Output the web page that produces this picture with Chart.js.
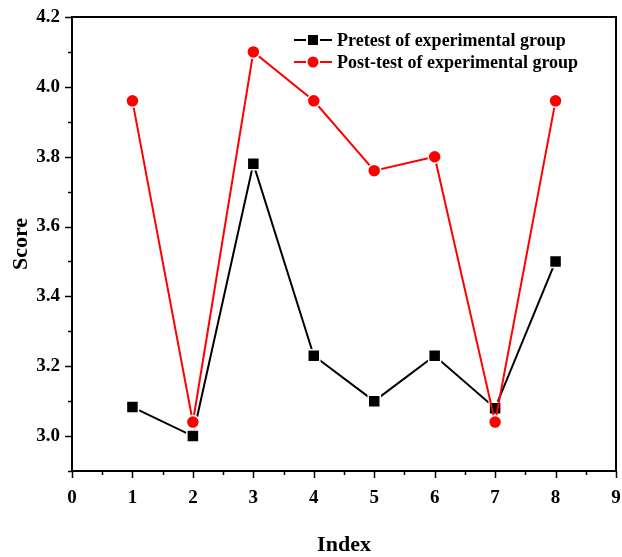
<!DOCTYPE html>
<html>
<head>
<meta charset="utf-8">
<script src="https://cdn.jsdelivr.net/npm/chart.js@4"></script>
<style>
  html, body { margin: 0; padding: 0; background: #fff; }
  #wrap { width: 622px; height: 557px; }
</style>
</head>
<body>
<div id="wrap"><canvas id="scoreChart" width="622" height="557"></canvas></div>
<script>
const indexes = [1, 2, 3, 4, 5, 6, 7, 8];
const pretest = [3.083, 3.0, 3.78, 3.23, 3.1, 3.23, 3.08, 3.5];
const posttest = [3.96, 3.04, 4.1, 3.96, 3.76, 3.8, 3.04, 3.96];
const seriesNames = ["Pretest of experimental group", "Post-test of experimental group"];
const xTicks = [0, 1, 2, 3, 4, 5, 6, 7, 8, 9];
const yTicks = [3.0, 3.2, 3.4, 3.6, 3.8, 4.0, 4.2];

const serif = "'Liberation Serif', 'Times New Roman', serif";

// axis frame, major/minor ticks, legend box
const framePlugin = {
    id: 'frame',
    afterDraw(chart) {
        const ctx = chart.ctx;
        const a = chart.chartArea;
        const xs = chart.scales.x;
        const ys = chart.scales.y;
        ctx.save();
        ctx.strokeStyle = '#000';
        ctx.lineWidth = 2;
        ctx.strokeRect(a.left, a.top, a.right - a.left, a.bottom - a.top);
        ctx.lineWidth = 1.5;
        ctx.beginPath();
        for (let v = 0; v <= 9.001; v += 0.5) {
            const px = Math.round(xs.getPixelForValue(v)) + 0.5;
            const len = Number.isInteger(v) ? 7 : 4;
            ctx.moveTo(px, a.bottom);
            ctx.lineTo(px, a.bottom + len);
        }
        for (let i = 29; i <= 42; i++) {
            const py = Math.round(ys.getPixelForValue(i / 10)) + 0.5;
            const len = i % 2 === 0 ? 7 : 4;
            ctx.moveTo(a.left, py);
            ctx.lineTo(a.left - len, py);
        }
        ctx.stroke();

        // legend
        const items = [
            { label: seriesNames[0], color: '#000', style: 'rect' },
            { label: seriesNames[1], color: '#ff0000', style: 'circle' }
        ];
        ctx.font = "bold 18px " + serif;
        ctx.textBaseline = 'middle';
        items.forEach((it, i) => {
            const y = 40 + i * 22;
            const x0 = 294;
            ctx.strokeStyle = it.color;
            ctx.lineWidth = 2;
            ctx.beginPath();
            ctx.moveTo(x0, y); ctx.lineTo(x0 + 12, y);
            ctx.moveTo(x0 + 26, y); ctx.lineTo(x0 + 38, y);
            ctx.stroke();
            ctx.fillStyle = it.color;
            if (it.style === 'rect') {
                ctx.fillRect(x0 + 14, y - 5, 10, 10);
            } else {
                ctx.beginPath();
                ctx.arc(x0 + 19, y, 5.5, 0, Math.PI * 2);
                ctx.fill();
            }
            ctx.fillStyle = '#000';
            ctx.fillText(it.label, x0 + 43, y + 1);
        });
        ctx.restore();
    }
};

const scoreData = {
    datasets: [
        {
            label: seriesNames[0],
            data: indexes.map((x, i) => ({ x: x, y: pretest[i] })),
            borderColor: '#000',
            backgroundColor: '#000',
            borderWidth: 2,
            pointStyle: 'rect',
            pointRadius: 8.5,
            pointBorderColor: '#fff',
            pointBorderWidth: 1.5,
            tension: 0,
            order: 2,
        },
        {
            label: seriesNames[1],
            data: indexes.map((x, i) => ({ x: x, y: posttest[i] })),
            borderColor: '#ff0000',
            backgroundColor: '#ff0000',
            borderWidth: 2,
            pointStyle: 'circle',
            pointRadius: 6.5,
            pointBorderColor: '#fff',
            pointBorderWidth: 1.5,
            tension: 0,
            order: 1,
        }
    ]
};

const scoreConfig = {
    type: 'line',
    data: scoreData,
    options: {
        responsive: false,
        animation: false,
        layout: { autoPadding: false, padding: { top: 17, right: 6, left: 0, bottom: 0 } },
        plugins: {
            legend: { display: false },
            tooltip: { enabled: false }
        },
        scales: {
            x: {
                type: 'linear',
                min: 0,
                max: 9,
                afterFit(scale) { scale.height = 86; scale.paddingRight = 0; },
                afterBuildTicks(scale) { scale.ticks = xTicks.map(v => ({ value: v })); },
                grid: { display: false },
                border: { display: false },
                ticks: {
                    padding: 8,
                    maxRotation: 0,
                    autoSkip: false,
                    color: '#000',
                    font: { family: serif, size: 19, weight: 'bold' }
                },
                title: {
                    display: true,
                    text: 'Index',
                    color: '#000',
                    padding: { top: 30, bottom: 0 },
                    font: { family: serif, size: 22, weight: 'bold', lineHeight: 1.1 }
                }
            },
            y: {
                min: 2.9,
                max: 4.2,
                afterFit(scale) { scale.width = 72; },
                afterBuildTicks(scale) { scale.ticks = yTicks.map(v => ({ value: v })); },
                grid: { display: false },
                border: { display: false },
                ticks: {
                    padding: 4,
                    autoSkip: false,
                    color: '#000',
                    font: { family: serif, size: 19, weight: 'bold' },
                    callback: v => v.toFixed(1)
                },
                title: {
                    display: true,
                    text: 'Score',
                    color: '#000',
                    padding: { top: 8, bottom: 0 },
                    font: { family: serif, size: 22, weight: 'bold' }
                }
            }
        }
    },
    plugins: [framePlugin]
};

const scoreChart = new Chart(document.getElementById('scoreChart'), scoreConfig);
</script>
</body>
</html>
